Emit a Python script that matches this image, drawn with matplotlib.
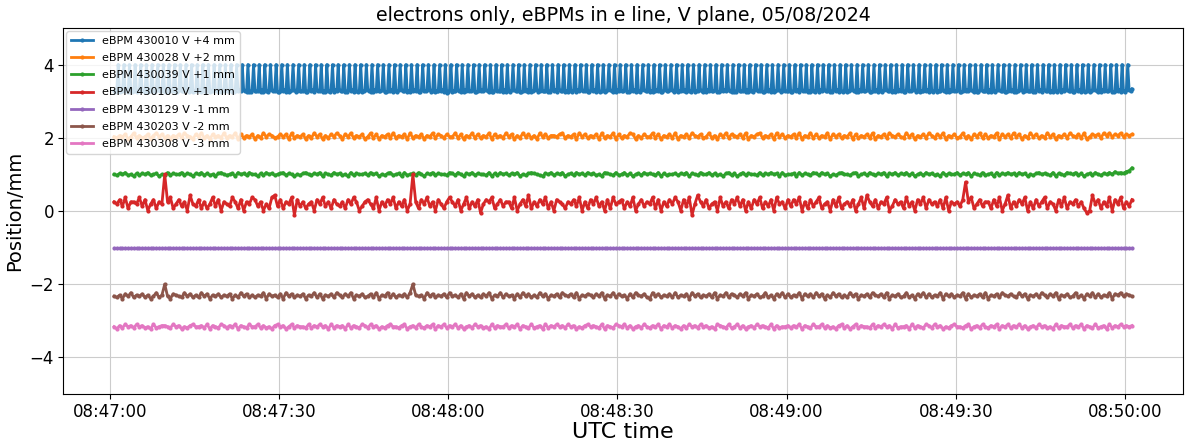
import numpy as np
import pandas as pd
import matplotlib
matplotlib.use("Agg")
import matplotlib.pyplot as plt
import matplotlib.dates as mdates

# Sample codes: each char is one reading, value = lo + int(char, 36) * step,
# '*' = BPM reads zero, i.e. the plotted value is just the offset.
t_start = "2024-08-05 08:47:00.75"

labels = ["eBPM 430010 V +4 mm", "eBPM 430028 V +2 mm", "eBPM 430039 V +1 mm",
          "eBPM 430103 V +1 mm", "eBPM 430129 V -1 mm", "eBPM 430203 V -2 mm",
          "eBPM 430308 V -3 mm"]
offsets = [4, 2, 1, 1, -1, -2, -3]

# 430010: three readings per second, then a zero reading (dropout) each second
blue_code = """
546 455 564 645 456 554 465 546 655 454 565 446 556 645 455 564 546 455 654 465
556 445 565 654 446 555 464 546 655 445 564 456 645 555 446 564 655 454 546 465
655 446 564 545 456 654 465 556 445 564 546 655 454 565 446 556 645 455 564 346
455 654 465 556 445 565 654 446 555 464 546 655 445 564 456 645 555 446 564 655
454 546 465 655 446 564 545 456 654 465 556 445 564 546 655 454 565 446 556 645
455 564 546 455 654 465 556 445 565 654 446 555 464 546 655 445 564 456 645 555
446 564 655 454 546 465 655 446 564 545 456 654 465 556 445 564 546 655 454 565
446 556 645 455 564 546 455 654 465 556 445 565 654 446 555 464 546 655 445 564
456 645 555 446 564 655 454 546 465 655 446 564 545 456 654 465 556 445 564 546
657
"""
blue_lo, blue_step = 3.14, 0.028

orange_code = """
5465735846 4573685746 3657486537 5846375648 4658374657 3648576457 5738465736 4857364758
6375846573 5847365748 4657384657 3658476475 5847365847 4658375648 5736485746 3857466578
4657385746 5738465837 4658736475 5847365748 3657486574 5846375847 6574836578 4657385746
5748365847 4658375746 5837465748 3657486575 4857365748 6475836574 5846375847 4658375748
5736485746 4857365748 6574835767 4868576857 67
"""
orange_lo, orange_step = 1.87, 0.032

green_code = """
5465745364 6574563547 4655746536 5746453675 4563756475 5364756456 7465354675 4657365475
6453746556 4756354674 5637456475 3657465547 6475365746 5547364756 4657354676 5436574657
3564756475 6453765474 5746356475 6547364556 4657365475 5746453674 6357465547 4657563745
5637465476 4756354675 5467356475 4657365746 5746356475 6453746557 4657365474 5637465756
4756354675 6547365476 5746356475 4657586768 9c
"""
green_lo, green_step = 0.875, 0.025

red_code = """
7685947769 58368476*7 9468573a65 8474695837 6597483769 8573649a58 4769185746 7386957486
5748697357 8649375869 475836*748 6957386479 7583694758 2687946857 7493685a47 5869473876
4768593748 6957384967 8475936857 6948375869 7385916a75 8467395748 6958374869 4758396748
5869374857 9467385946 7583694a75 8476935867 4957386948 6758493767 58g7946857 7485936a47
5869374857 9476385947 6857423a68 4759386947 58
"""
red_lo, red_step = -0.17, 0.06

purple_level = -1.0

brown_code = """
5463758465 74635846*5 3765485746 4857365746 5736485746 4658375647 3857465736 5847365748
6475836574 5748365847 465748*656 3857465748 5647385746 4758365847 5637485746 4857365748
6574836576 4758365847 5637486574 3857465748 4657385746 5748365847 6475836574 5846375847
4658375748 5736485746 4857365748 6574836574 5846375847 4658375746 5837465748 3657486575
4857365748 6475836574 5846375847 4658376857 65
"""
brown_lo, brown_step = -2.49, 0.032

pink_code = """
5364756475 6453745665 4756354675 5647365476 4657365475 5746453675 6357465547 4657563746
5637465476 4756354675 5467356475 4657365746 5746356475 6453746557 4657365474 5637465756
4756354675 6547365476 5746356475 4657365746 5364756475 6453765474 5746356475 6547364556
4657365475 5746453674 6357465547 4657563745 5637465476 4756354675 5467356475 4657365746
5746356475 6453746557 4657365474 5637465756 56
"""
pink_lo, pink_step = -3.31, 0.03


def decode(code, lo, step, dropout):
    s = "".join(code.split())
    return np.array([dropout if c == "*" else lo + int(c, 36) * step for c in s])


def times(n, dt):
    t0 = pd.Timestamp(t_start)
    return (t0 + pd.to_timedelta(np.arange(n) * dt, unit="s")).to_pydatetime()


blue_v = decode("*".join(blue_code.split()), blue_lo, blue_step, offsets[0])
orange_v = decode(orange_code, orange_lo, orange_step, offsets[1])
green_v = decode(green_code, green_lo, green_step, offsets[2])
red_v = decode(red_code, red_lo, red_step, offsets[3])
brown_v = decode(brown_code, brown_lo, brown_step, offsets[5])
pink_v = decode(pink_code, pink_lo, pink_step, offsets[6])
purple_v = np.full(len(red_v), purple_level)

series = [(blue_v, 0.25), (orange_v, 0.5), (green_v, 0.5), (red_v, 0.5),
          (purple_v, 0.5), (brown_v, 0.5), (pink_v, 0.5)]

fig = plt.figure(figsize=(11.9, 4.44), dpi=100)
ax = fig.add_axes([0.053, 0.1126, 0.941, 0.8244])

for (v, dt), lab in zip(series, labels):
    ax.plot(times(len(v), dt), v, marker=".", markersize=4, lw=2, label=lab)

ax.set_ylim(-5, 5)
ax.xaxis.set_major_locator(mdates.SecondLocator(bysecond=[0, 30]))
ax.xaxis.set_major_formatter(mdates.DateFormatter("%H:%M:%S"))
ax.tick_params(labelsize=12, pad=3)
ax.grid(True, color="#cccccc", lw=0.8)
ax.set_xlabel("UTC time", fontsize=16, labelpad=1)
ax.set_ylabel("Position/mm", fontsize=14)
ax.set_title("electrons only, eBPMs in e line, V plane, 05/08/2024", fontsize=13.7, pad=5)
ax.legend(loc="upper left", fontsize=8, labelspacing=0.65, borderaxespad=0.3)

fig.savefig("out.png", dpi=100)
